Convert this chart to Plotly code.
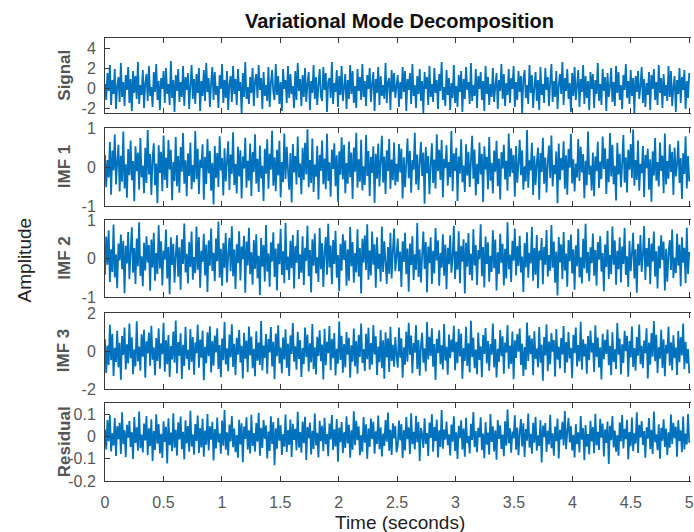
import numpy as np
import plotly.graph_objects as go

duration_s = 5.0

# Values, stored as integers in the stated units.
signal_tenths = [
 4, -12, 15, -3, 23, -17, 8, -6, 19, -21, 2, 11, -14, 25, -9, 6, -18, 13, -2, 21,
 -15, 9, -23, 17, -5, 12, -11, 26, -16, 3, -7, 18, -20, 5, 14, -13, 22, -8, 1, -19,
 16, -4, 24, -12, 7, -22, 10, -1, 17, -15, 20, -6, 4, -17, 27, -10, 8, -24, 13, -3,
 19, -14, 6, -9, 22, -18, 11, -2, 15, -21, 3, 23, -11, 9, -16, 14, -5, 20, -23, 7,
 -8, 18, -13, 25, -4, 10, -19, 5, 21, -12, 16, -7, 2, -20, 13, -1, 24, -15, 8, -10,
 17, -22, 4, 12, -14, 22, -6, 9, -17, 19, -3, 6, -25, 15, -9, 26, -11, 1, -16, 11,
 -5, 20, -18, 7, 14, -10, 23, -2, 10, -21, 16, -8, 3, -13, 21, -19, 5, 18, -4, -12,
 24, -7, 12, -16, 6, -23, 19, -1, 8, -15, 22, -10, 14, -6, 2, -20, 17, -12, 25, -3,
 9, -18, 13, -9, 20, -14, 4, 16, -22, 7, -5, 23, -11, 11, -17, 3, 19, -8, -13, 21,
 -2, 15, -24, 6, 10, -10, 26, -16, 5, -4, 18, -19, 12, -7, 22, -13, 1, 14, -21, 8,
 -11, 23, -6, 17, -15, 2, -20, 19, -3, 11, -12, 24, -9, 7, -18, 13, -1, 20, -14, 4,
 16, -23, 9, -5, 21, -17, 12, -8, 3, -11, 25, -15, 6, 10, -22, 18, -4, 15, -10, 2,
 13, -19, 6, -11, 21, -4, 17, -23, 9, -2, 15, -16, 24, -8, 3, -20, 12, -6, 19, -13,
 7, -25, 16, -1, 11, -17, 22, -9, 4, -14, 20, -5, 8, -21, 14, -3, 26, -12, 1, -18,
 18, -7, 10, -22, 5, -10, 23, -15, 2, -19, 13, -4, 17, -24, 9, -11, 21, -2, 6, -16,
 25, -13, 3, -8, 19, -20, 12, -1, 16, -12, 7, -23, 22, -6, 11, -17, 4, -9, 20, -14,
 2, 15, -21, 8, -3, 24, -11, 14, -18, 5, -7, 19, -15, 10, -1, 22, -19, 6, -12, 17,
 -4, 12, -26, 9, 18, -10, 3, -16, 23, -5, 13, -20, 1, 16, -13, 8, -22, 21, -7, 4,
 -15, 20, -2, 11, -18, 6, 24, -14, 7, -9, 17, -21, 3, 14, -6, 26, -17, 10, -3, 19,
 -11, 5, -24, 15, -8, 21, -12, 2, 18, -19, 9, -4, 23, -16, 12, -10, 7, -22, 16, -1,
 14, -20, 8, -6, 25, -13, 4, -17, 19, -3, 11, -23, 15, -9, 1, 20, -14, 6, -18, 22,
 -5, 16, -12, 3, -21, 13, -2, 24, -10, 7, -16, 18, -8, 10, -25, 12, -4, 17, -11, 2,
 21, -15, 9, -19, 5, -7, 16, -22, 13, -1, 19, -12, 6, -17, 23, -5, 10, -20, 14, -8,
 3, -13, 22, -9, 17, -18, 1, 12, -24, 8, -6, 20, -15, 11, -2, 18, -21, 7, -10, 15,
]

imf1_hundredths = [
 31, -52, 18, -27, 64, -71, 42, -8, 83, -45, 12, 57, -63, 29, -38, 91, -55, 7, -79, 46,
 -21, 68, -34, 15, -88, 53, -11, 37, -58, 74, -26, 4, -67, 49, -41, 95, -19, 33, -72, 22,
 61, -47, 9, -93, 56, -15, 39, -62, 81, -33, 24, -54, 69, -6, 44, -85, 13, -36, 77, -49,
 28, -66, 51, -12, 87, -43, 17, -75, 35, -23, 63, -57, 5, -39, 92, -31, 47, -69, 19, -2,
 58, -84, 26, -44, 72, -16, 41, -61, 11, -96, 54, -28, 36, -51, 79, -9, 23, -73, 48, -37,
 14, 66, -59, 32, -18, 89, -46, 8, -68, 52, -24, 43, -81, 27, -4, 75, -53, 16, -35, 60,
 -74, 38, -13, 84, -42, 21, -64, 55, -29, 3, -87, 47, -17, 71, -56, 34, -7, 93, -48, 25,
 -62, 44, -22, 67, -78, 13, -39, 86, -31, 52, -6, -58, 36, -91, 59, -14, 28, -45, 78, -27,
 9, -70, 49, -33, 62, -19, 97, -52, 18, -41, 73, -64, 6, -25, 54, -83, 31, -10, 68, -44,
 22, -57, 85, -36, 12, -76, 45, -5, 61, -49, 30, -89, 40, -20, 76, -32, 57, -67, 10, -43,
 65, -26, 37, -82, 50, -12, 88, -53, 20, -38, 70, -60, 2, -46, 82, -23, 41, -74, 26, -15,
 53, -92, 34, -30, 60, -50, 15, 80, -40, 27, -69, 43, -11, 72, -56, 19, -34, 63, -47, 8,
 -38, 59, -14, 47, -81, 25, -52, 9, 73, -29, 41, -66, 18, -7, 88, -45, 32, -59, 12, 64,
 -23, 37, -94, 51, -16, 28, -70, 6, 61, -41, 19, -55, 84, -11, 44, -33, 69, -78, 21, -3,
 56, -48, 13, -26, 92, -62, 35, -10, 49, -87, 27, -17, 71, -39, 4, -64, 58, -22, 39, -51,
 15, 80, -30, 45, -73, 8, -44, 63, -19, 34, -90, 53, -6, 26, -57, 77, -35, 11, -68, 42,
 -12, 67, -49, 22, -83, 38, -4, 57, -32, 16, -61, 86, -25, 48, -15, 31, -76, 54, -40, 7,
 70, -21, 43, -58, 2, -37, 95, -53, 17, -9, 62, -72, 29, -46, 10, 50, -84, 36, -13, 75,
 -43, 24, -65, 12, 55, -28, 81, -50, 5, -18, 40, -93, 60, -34, 23, -8, 66, -56, 30, -71,
 46, -2, 85, -42, 20, -63, 9, -27, 72, -36, 52, -14, 33, -80, 16, -47, 91, -20, 4, -60,
 37, -75, 27, -11, 65, -54, 14, -31, 78, -5, 48, -69, 21, -39, 87, -24, 57, -44, 3, -86,
 62, -19, 34, -52, 11, 82, -40, 25, -65, 44, -7, 59, -28, 96, -48, 18, -33, 68, -61, 8,
 -16, 54, -77, 31, -3, 47, -58, 20, -89, 40, -22, 74, -35, 13, -50, 63, -10, 29, -67, 86,
 -45, 15, -30, 58, -13, 39, -72, 50, -24, 6, 67, -41, 23, -82, 35, -18, 79, -55, 28, -37,
]

imf2_hundredths = [
 -42, 57, -16, 73, -61, 24, -35, 88, -49, 11, -77, 39, -5, 62, -28, 46, -90, 33, -13, 69,
 -54, 18, 81, -37, 27, -66, 52, -20, 94, -45, 6, -72, 41, -31, 58, -10, 35, -84, 49, -23,
 67, -58, 14, -40, 86, -26, 45, -70, 21, -3, 75, -52, 30, -93, 55, -17, 38, -63, 8, 60,
 -47, 29, -81, 50, -14, 91, -36, 12, -65, 43, -22, 70, -55, 4, -38, 83, -29, 56, -76, 20,
 -9, 64, -44, 36, -87, 47, -19, 78, -32, 15, -59, 52, -7, 96, -50, 25, -71, 40, -24, 66,
 -62, 10, 54, -33, 84, -46, 23, -79, 37, -12, 71, -57, 31, -2, 59, -89, 44, -18, 80, -41,
 16, -68, 48, -27, 63, -51, 7, -95, 53, -21, 35, -60, 87, -34, 13, -73, 42, -8, 68, -48,
 26, -83, 39, -15, 77, -43, 19, -64, 92, -30, 5, -56, 46, -25, 61, -78, 32, -11, 74, -53,
 11, -37, 58, -69, 28, -6, 85, -46, 22, -88, 50, -19, 65, -39, 3, -61, 79, -28, 40, -74,
 17, 56, -42, 90, -23, 34, -67, 48, -14, 72, -50, 9, -85, 38, -32, 63, -4, 47, -71, 24,
 -58, 82, -20, 43, -63, 14, -36, 76, -47, 27, -91, 51, -10, 60, -30, 89, -55, 21, -44, 70,
 -16, 37, -76, 55, -27, 12, -60, 83, -35, 45, -8, -66, 30, -40, 67, -52, 19, 78, -33, 5,
 52, -33, 18, -74, 45, -9, 67, -41, 26, -86, 39, -17, 58, -56, 11, -30, 92, -48, 23, -62,
 8, 70, -27, 43, -88, 31, -12, 55, -66, 20, -39, 79, -5, 47, -71, 14, -24, 63, -45, 36,
 -80, 28, -15, 60, -37, 4, 85, -53, 19, -29, 71, -64, 33, -8, 50, -91, 41, -21, 66, -43,
 12, -57, 76, -18, 35, -69, 22, -2, 89, -46, 30, -75, 57, -14, 42, -60, 7, -35, 73, -25,
 49, -83, 16, -40, 64, -11, 38, -70, 25, -52, 94, -28, 10, -61, 46, -6, 78, -44, 32, -19,
 59, -36, 5, -87, 40, -23, 68, -50, 15, -13, 82, -58, 27, -42, 61, -77, 21, -4, 53, -67,
 30, -16, 74, -47, 9, -32, 87, -24, 44, -63, 18, -96, 56, -10, 37, -54, 69, -31, 13, -73,
 48, -7, 62, -39, 24, -81, 34, -20, 77, -49, 3, -65, 51, -26, 90, -38, 17, -59, 29, -12,
 65, -45, 22, -71, 43, -3, 58, -34, 14, -85, 36, -22, 72, -53, 9, -41, 83, -16, 47, -68,
 20, -28, 55, -62, 31, -14, 79, -43, 6, -74, 46, -33, 12, 67, -52, 24, -89, 38, -18, 61,
 -35, 9, 84, -56, 27, -21, 53, -67, 39, -8, 70, -47, 19, -78, 33, -26, 60, -4, 44, -83,
 25, -60, 13, 48, -30, 75, -51, 2, -38, 64, -19, 36, -72, 55, -11, 28, -64, 80, -40, 17,
]

imf3_hundredths = [
 62, -115, 28, -74, 138, -49, 91, -132, 17, -58, 107, -86, 43, -151, 79, -21, 124, -97, 35, -66,
 145, -38, 72, -122, 9, -81, 156, -55, 24, -104, 88, -30, 112, -141, 51, -13, 97, -77, 133, -46,
 19, -128, 68, -52, 119, -93, 40, -17, 149, -109, 57, -69, 84, -136, 26, -44, 102, -62, 161, -118,
 47, -25, 93, -147, 33, -79, 127, -41, 6, -100, 116, -57, 74, -125, 45, -12, 139, -88, 60, -35,
 108, -154, 22, -64, 99, -28, 130, -113, 53, -78, 81, -7, 120, -95, 31, -138, 66, -49, 152, -71,
 14, -106, 87, -33, 141, -84, 38, -127, 70, -19, 111, -60, 27, -144, 96, -40, 55, -112, 129, -23,
 76, -91, 11, -133, 104, -51, 44, -73, 158, -102, 29, -36, 89, -120, 63, -8, 126, -82, 49, -148,
 92, -27, 135, -65, 18, -117, 71, -45, 114, -89, 39, -131, 82, -15, 147, -56, 25, -99, 101, -42,
 58, -137, 15, -70, 123, -32, 86, -108, 41, -60, 142, -94, 20, -123, 75, -26, 109, -53, 34, -150,
 117, -75, 48, -11, 131, -101, 64, -38, 95, -129, 12, -67, 155, -47, 80, -114, 37, -86, 100, -20,
 69, -140, 30, -56, 118, -80, 52, -119, 85, -31, 144, -63, 10, -105, 90, -43, 122, -98, 42, -72,
 136, -18, 77, -126, 23, -59, 110, -90, 56, -146, 98, -34, 67, -110, 128, -52, 32, -83, 73, -24,
 -88, 124, -35, 67, -141, 19, -72, 103, -56, 148, -20, 81, -117, 42, -9, 136, -94, 58, -130, 27,
 96, -61, 14, -108, 153, -44, 75, -26, 119, -83, 37, -152, 64, -12, 109, -70, 30, -97, 142, -50,
 22, -125, 87, -38, 60, -6, 133, -101, 48, -64, 115, -29, 92, -146, 16, -53, 128, -79, 41, -113,
 159, -33, 70, -90, 8, -122, 97, -47, 25, -138, 84, -15, 121, -66, 53, -104, 36, -19, 145, -86,
 63, -139, 11, -57, 111, -27, 78, -120, 45, -8, 137, -93, 29, -68, 102, -149, 56, -36, 89, -4,
 118, -74, 39, -131, 21, -99, 150, -52, 82, -17, 65, -127, 104, -41, 13, -85, 126, -62, 34, -157,
 73, -23, 140, -106, 50, -71, 94, -3, 58, -134, 116, -45, 24, -92, 68, -18, 131, -115, 47, -60,
 100, -39, 17, -143, 85, -12, 123, -81, 31, -55, 154, -98, 62, -28, 38, -119, 79, -49, 107, -7,
 43, -110, 135, -32, 71, -87, 19, -150, 91, -43, 59, -16, 113, -75, 27, -128, 98, -58, 9, -95,
 147, -20, 66, -123, 35, -63, 106, -1, 80, -136, 52, -34, 129, -84, 15, -104, 74, -25, 139, -69,
 28, -91, 55, -11, 120, -145, 44, -72, 95, -30, 158, -54, 86, -116, 20, -40, 112, -89, 61, -133,
 33, -14, 127, -77, 46, -102, 83, -37, 18, -126, 105, -59, 72, -24, 144, -96, 49, -65, 10, -118,
]

residual_thousandths = [
 31, -58, 74, -22, 95, -67, 14, -41, 83, -88, 46, -12, 61, -79, 108, -35, 27, -93, 52, -6,
 69, -47, 19, -101, 87, -29, 41, -64, 112, -53, 8, -72, 58, -18, 92, -84, 36, -44, 77, -110,
 24, -61, 99, -33, 55, -76, 12, -97, 68, -25, 43, -121, 81, -39, 17, -66, 104, -51, 30, -86,
 63, -14, 89, -57, 21, -103, 72, -31, 47, -69, 115, -45, 9, -82, 56, -20, 94, -74, 38, -49,
 79, -91, 26, -37, 101, -63, 45, -15, 66, -108, 33, -54, 85, -27, 13, -78, 71, -42, 119, -60,
 18, -85, 53, -23, 92, -48, 35, -71, 6, -95, 75, -36, 59, -116, 44, -11, 86, -59, 28, -77,
 97, -43, 15, -68, 60, -24, 106, -87, 39, -52, 73, -10, 49, -99, 22, -65, 90, -34, 64, -129,
 37, -55, 82, -19, 50, -83, 11, -46, 98, -70, 29, -38, 76, -92, 57, -16, 34, -62, 111, -50,
 20, -73, 67, -30, 88, -106, 42, -8, 62, -81, 25, -56, 103, -40, 16, -94, 70, -21, 48, -66,
 84, -35, 11, -89, 58, -13, 96, -61, 32, -45, 78, -113, 40, -26, 65, -74, 19, -52, 90, -32,
 52, -96, 27, -60, 113, -39, 70, -17, 45, -84, 6, -69, 87, -28, 54, -100, 35, -47, 80, -12,
 66, -78, 23, -34, 94, -57, 41, -90, 13, -43, 74, -24, 107, -64, 30, -83, 59, -9, 48, -71,
 -44, 71, -18, 56, -97, 29, -63, 87, -12, 41, -79, 104, -35, 21, -58, 93, -26, 65, -110, 38,
 9, -52, 81, -33, 15, -88, 62, -7, 99, -69, 43, -20, 76, -94, 27, -47, 118, -55, 31, -14,
 67, -39, 10, -85, 53, -24, 90, -65, 19, -101, 47, -8, 72, -59, 35, -91, 84, -30, 2, -76,
 57, -16, 109, -48, 24, -71, 39, -4, 86, -62, 13, -98, 64, -37, 17, -82, 100, -25, 45, -67,
 28, -105, 74, -11, 50, -56, 8, -89, 68, -42, 121, -31, 36, -73, 22, -9, 95, -60, 40, -84,
 16, 78, -45, 59, -92, 33, -19, 103, -50, 12, -77, 61, -28, 88, -64, 5, -43, 73, -117, 49,
 -3, 60, -70, 25, -36, 97, -53, 14, -86, 44, -21, 80, -99, 30, -13, 66, -41, 114, -57, 20,
 83, -27, 46, -63, 7, -94, 55, -35, 18, -72, 92, -15, 37, -107, 51, -46, 11, -81, 70, -22,
 42, -75, 102, -40, 21, -61, 79, -6, 58, -90, 32, -29, 67, -124, 48, -17, 91, -49, 26, -68,
 6, -87, 63, -23, 96, -54, 34, -12, 75, -103, 20, -44, 85, -66, 14, -32, 108, -74, 52, -5,
 69, -38, 24, -95, 41, -10, 82, -57, 30, -79, 112, -26, 9, -62, 54, -100, 38, -19, 77, -47,
 35, -83, 18, -51, 98, -34, 61, -8, 44, -91, 73, -21, 27, -70, 89, -58, 13, -36, 101, -28,
]

signal = np.array(signal_tenths) / 10.0
imf1 = np.array(imf1_hundredths) / 100.0
imf2 = np.array(imf2_hundredths) / 100.0
imf3 = np.array(imf3_hundredths) / 100.0
residual = np.array(residual_thousandths) / 1000.0

panel_names = ["Signal", "IMF 1", "IMF 2", "IMF 3", "Residual"]
panel_series = [signal, imf1, imf2, imf3, residual]
panel_yranges = [[-2.5, 5], [-1, 1], [-1, 1], [-2, 2], [-0.2, 0.15]]
panel_yticks = [[-2, 0, 2, 4], [-1, 0, 1], [-1, 0, 1], [-2, 0, 2], [-0.2, -0.1, 0, 0.1]]
panel_yticktext = [["-2", "0", "2", "4"], ["-1", "0", "1"], ["-1", "0", "1"], ["-2", "0", "2"], ["-0.2", "-0.1", "0", "0.1"]]
x_ticks = [0, 0.5, 1, 1.5, 2, 2.5, 3, 3.5, 4, 4.5, 5]
x_ticktext = ["0", "0.5", "1", "1.5", "2", "2.5", "3", "3.5", "4", "4.5", "5"]

title_text = "Variational Mode Decomposition"
x_label = "Time (seconds)"
y_label = "Amplitude"

W, H = 694, 532
ML, MR, MT, MB = 105, 0, 38, 51
plot_h = H - MT - MB
plot_w = W - ML - MR
panel_px = [(38, 113), (128, 206), (220, 297), (313, 389), (403, 481)]
domains = [[(H - MB - b) / plot_h, (H - MB - t) / plot_h] for t, b in panel_px]

def px_x(x):
    return (x - ML) / plot_w

def px_y(y):
    return (H - MB - y) / plot_h

line_color = "#0072BD"
axis_color = "#3a3a3a"
FONT = "Liberation Sans, Arial, sans-serif"
tick_font = dict(family=FONT, size=16, color="#575757")

fig = go.Figure()

layout = {}
for i, (name, ser) in enumerate(zip(panel_names, panel_series)):
    k = "" if i == 0 else str(i + 1)
    t = np.linspace(0, duration_s, len(ser))
    fig.add_trace(go.Scatter(
        x=t, y=ser, mode="lines",
        line=dict(color=line_color, width=1.8, simplify=False),
        xaxis="x" + k, yaxis="y" + k, showlegend=False,
    ))
    last = i == len(panel_names) - 1
    layout["xaxis" + k] = dict(
        domain=[0, 1], anchor="y" + k, range=[0, 5.015],
        tickvals=x_ticks, ticktext=x_ticktext, showticklabels=last,
        ticks="inside", ticklen=5, tickcolor=axis_color, tickwidth=1,
        showline=True, linecolor=axis_color, linewidth=1, mirror="allticks",
        showgrid=False, zeroline=False, tickfont=tick_font,
        ticklabeloverflow="allow", ticklabelstandoff=7,
    )
    layout["yaxis" + k] = dict(
        domain=domains[i], anchor="x" + k, range=panel_yranges[i],
        tickvals=panel_yticks[i], ticktext=panel_yticktext[i],
        ticks="inside", ticklen=5, tickcolor=axis_color, tickwidth=1,
        showline=True, linecolor=axis_color, linewidth=1, mirror=False,
        showgrid=False, zeroline=False, tickfont=tick_font,
        ticklabeloverflow="allow", ticklabelstandoff=5,
    )

annotations = [
    dict(text="<b>" + title_text + "</b>", x=px_x(401), y=px_y(21), xref="paper", yref="paper",
         showarrow=False, xanchor="center", yanchor="middle",
         font=dict(family=FONT, size=20, color="#111111")),
    dict(text=x_label, x=px_x(402), y=px_y(522), xref="paper", yref="paper",
         showarrow=False, xanchor="center", yanchor="middle",
         font=dict(family=FONT, size=19, color="#222222")),
    dict(text=y_label, x=px_x(24), y=px_y(260), xref="paper", yref="paper", textangle=-90,
         showarrow=False, xanchor="center", yanchor="middle",
         font=dict(family=FONT, size=19, color="#222222")),
]
for i, name in enumerate(panel_names):
    t0, b0 = panel_px[i]
    annotations.append(dict(
        text="<b>" + name + "</b>", x=px_x(64), y=px_y((t0 + b0) / 2), xref="paper", yref="paper",
        textangle=-90, showarrow=False, xanchor="center", yanchor="middle",
        font=dict(family=FONT, size=17, color="#555555"),
    ))

fig.update_layout(
    width=W, height=H,
    margin=dict(l=ML, r=MR, t=MT, b=MB, pad=0),
    paper_bgcolor="white", plot_bgcolor="white",
    annotations=annotations,
    **layout,
)

fig.write_html("out.html", include_plotlyjs=True, config={"displayModeBar": False})
